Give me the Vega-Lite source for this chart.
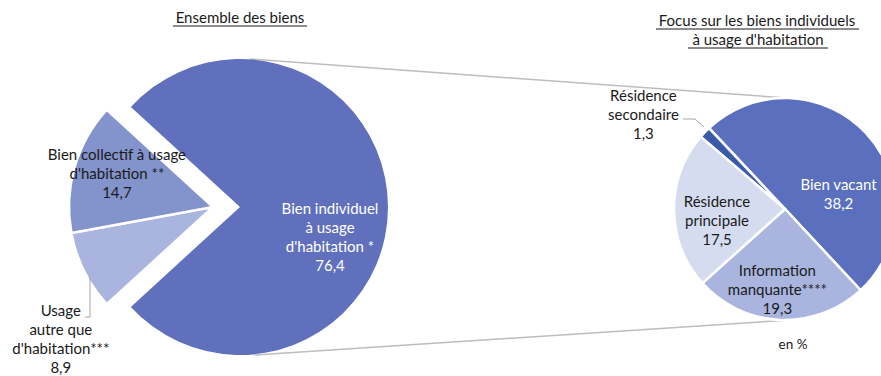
{
  "$schema": "https://vega.github.io/schema/vega-lite/v6.json",
  "width": 881,
  "height": 376,
  "autosize": "none",
  "padding": 0,
  "background": "white",
  "config": {"view": {"stroke": null}, "text": {"font": "Lato", "fontSize": 15, "lineHeight": 19}},
  "datasets": {
    "gauche": [
      {"categorie": "Bien individuel à usage d'habitation *", "etiquette": "Bien individuel\nà usage\nd'habitation *", "part": 76.4, "rang": 1},
      {"categorie": "Usage autre que d'habitation***", "etiquette": "Usage\nautre que\nd'habitation***", "part": 8.9, "rang": 2},
      {"categorie": "Bien collectif à usage d'habitation **", "etiquette": "Bien collectif à usage\nd'habitation **", "part": 14.7, "rang": 3}
    ],
    "droite": [
      {"categorie": "Bien vacant", "etiquette": "Bien vacant", "part": 38.2, "rang": 1},
      {"categorie": "Information manquante****", "etiquette": "Information\nmanquante****", "part": 19.3, "rang": 2},
      {"categorie": "Résidence principale", "etiquette": "Résidence\nprincipale", "part": 17.5, "rang": 3},
      {"categorie": "Résidence secondaire", "etiquette": "Résidence\nsecondaire", "part": 1.3, "rang": 4}
    ],
    "vide": [{}]
  },
  "resolve": {"scale": {"theta": "independent"}},
  "layer": [
    {
      "data": {"name": "vide"},
      "mark": {"type": "rule", "color": "#bdbdbd", "strokeWidth": 1.5},
      "encoding": {
        "x": {"datum": 250, "type": "quantitative", "scale": {"domain": [0, 881], "nice": false, "zero": false}, "axis": null},
        "x2": {"datum": 787},
        "y": {"datum": 59, "type": "quantitative", "scale": {"domain": [0, 376], "reverse": true, "nice": false, "zero": false}, "axis": null},
        "y2": {"datum": 98}
      }
    },
    {
      "data": {"name": "vide"},
      "mark": {"type": "rule", "color": "#bdbdbd", "strokeWidth": 1.5},
      "encoding": {
        "x": {"datum": 255, "type": "quantitative", "scale": {"domain": [0, 881], "nice": false, "zero": false}, "axis": null},
        "x2": {"datum": 790},
        "y": {"datum": 355, "type": "quantitative", "scale": {"domain": [0, 376], "reverse": true, "nice": false, "zero": false}, "axis": null},
        "y2": {"datum": 320}
      }
    },
    {
      "data": {"name": "gauche"},
      "transform": [
        {"stack": "part", "groupby": [], "sort": [{"field": "rang", "order": "ascending"}], "as": ["debut", "fin"]},
        {"filter": "datum.rang != 1"}
      ],
      "mark": {"type": "arc", "radius": 144, "stroke": "white", "strokeWidth": 2.5},
      "encoding": {
        "x": {"datum": 213, "type": "quantitative", "scale": {"domain": [0, 881], "nice": false, "zero": false}, "axis": null},
        "y": {"datum": 207, "type": "quantitative", "scale": {"domain": [0, 376], "reverse": true, "nice": false, "zero": false}, "axis": null},
        "theta": {"field": "debut", "type": "quantitative", "scale": {"domain": [0, 100], "range": [5.45415, 11.73734]}},
        "theta2": {"field": "fin"},
        "color": {"field": "categorie", "type": "nominal", "legend": null,
          "scale": {"domain": ["Bien individuel à usage d'habitation *", "Usage autre que d'habitation***", "Bien collectif à usage d'habitation **", "Bien vacant", "Information manquante****", "Résidence principale", "Résidence secondaire"],
                    "range": ["#6170bc", "#a9b5df", "#8393cc", "#5a6fbd", "#a9b5df", "#d6dcef", "#3a5ba8"]}}
      }
    },
    {
      "data": {"name": "gauche"},
      "transform": [
        {"stack": "part", "groupby": [], "sort": [{"field": "rang", "order": "ascending"}], "as": ["debut", "fin"]},
        {"filter": "datum.rang == 1"}
      ],
      "mark": {"type": "arc", "radius": 148},
      "encoding": {
        "x": {"datum": 240, "type": "quantitative", "scale": {"domain": [0, 881], "nice": false, "zero": false}, "axis": null},
        "y": {"datum": 207, "type": "quantitative", "scale": {"domain": [0, 376], "reverse": true, "nice": false, "zero": false}, "axis": null},
        "theta": {"field": "debut", "type": "quantitative", "scale": {"domain": [0, 100], "range": [5.45415, 11.73734]}},
        "theta2": {"field": "fin"},
        "color": {"field": "categorie", "type": "nominal", "legend": null}
      }
    },
    {
      "data": {"name": "droite"},
      "transform": [
        {"stack": "part", "groupby": [], "sort": [{"field": "rang", "order": "ascending"}], "as": ["debut", "fin"]}
      ],
      "mark": {"type": "arc", "radius": 111, "stroke": "white", "strokeWidth": 2.5},
      "encoding": {
        "x": {"datum": 785, "type": "quantitative", "scale": {"domain": [0, 881], "nice": false, "zero": false}, "axis": null},
        "y": {"datum": 209, "type": "quantitative", "scale": {"domain": [0, 376], "reverse": true, "nice": false, "zero": false}, "axis": null},
        "theta": {"field": "debut", "type": "quantitative", "scale": {"domain": [0, 76.3], "range": [5.5292, 11.81239]}},
        "theta2": {"field": "fin"},
        "color": {"field": "categorie", "type": "nominal", "legend": null}
      }
    },
    {
      "data": {"name": "gauche"},
      "transform": [
        {"stack": "part", "groupby": [], "sort": [{"field": "rang", "order": "ascending"}], "as": ["debut", "fin"]},
        {"calculate": "(datum.debut + datum.fin) / 2", "as": "milieu"},
        {"calculate": "datum.etiquette + '\\n' + replace(format(datum.part, '.1f'), '.', ',')", "as": "texte"},
        {"filter": "datum.rang == 1"}
      ],
      "mark": {"type": "text", "radius": 90, "dy": 1.5, "fill": "white", "lineBreak": "\n", "baseline": "middle", "align": "center"},
      "encoding": {
        "x": {"datum": 240, "type": "quantitative", "scale": {"domain": [0, 881], "nice": false, "zero": false}, "axis": null},
        "y": {"datum": 207, "type": "quantitative", "scale": {"domain": [0, 376], "reverse": true, "nice": false, "zero": false}, "axis": null},
        "theta": {"field": "milieu", "type": "quantitative", "scale": {"domain": [0, 100], "range": [5.45415, 11.73734]}},
        "text": {"field": "texte"}
      }
    },
    {
      "data": {"name": "gauche"},
      "transform": [
        {"stack": "part", "groupby": [], "sort": [{"field": "rang", "order": "ascending"}], "as": ["debut", "fin"]},
        {"calculate": "(datum.debut + datum.fin) / 2", "as": "milieu"},
        {"calculate": "datum.etiquette + '\\n' + replace(format(datum.part, '.1f'), '.', ',')", "as": "texte"},
        {"filter": "datum.rang == 3"}
      ],
      "mark": {"type": "text", "radius": 100, "dy": -24, "fill": "#1a1a1a", "lineBreak": "\n", "baseline": "middle", "align": "center"},
      "encoding": {
        "x": {"datum": 213, "type": "quantitative", "scale": {"domain": [0, 881], "nice": false, "zero": false}, "axis": null},
        "y": {"datum": 207, "type": "quantitative", "scale": {"domain": [0, 376], "reverse": true, "nice": false, "zero": false}, "axis": null},
        "theta": {"field": "milieu", "type": "quantitative", "scale": {"domain": [0, 100], "range": [5.45415, 11.73734]}},
        "text": {"field": "texte"}
      }
    },
    {
      "data": {"name": "gauche"},
      "transform": [
        {"stack": "part", "groupby": [], "sort": [{"field": "rang", "order": "ascending"}], "as": ["debut", "fin"]},
        {"calculate": "(datum.debut + datum.fin) / 2", "as": "milieu"},
        {"calculate": "datum.etiquette + '\\n' + replace(format(datum.part, '.1f'), '.', ',')", "as": "texte"},
        {"filter": "datum.rang == 2"}
      ],
      "mark": {"type": "text", "radius": 170, "dy": 28.5, "fill": "#1a1a1a", "lineBreak": "\n", "baseline": "middle", "align": "center"},
      "encoding": {
        "x": {"datum": 213, "type": "quantitative", "scale": {"domain": [0, 881], "nice": false, "zero": false}, "axis": null},
        "y": {"datum": 207, "type": "quantitative", "scale": {"domain": [0, 376], "reverse": true, "nice": false, "zero": false}, "axis": null},
        "theta": {"field": "milieu", "type": "quantitative", "scale": {"domain": [0, 100], "range": [5.45415, 11.73734]}},
        "text": {"field": "texte"}
      }
    },
    {
      "data": {"name": "droite"},
      "transform": [
        {"stack": "part", "groupby": [], "sort": [{"field": "rang", "order": "ascending"}], "as": ["debut", "fin"]},
        {"calculate": "(datum.debut + datum.fin) / 2", "as": "milieu"},
        {"calculate": "datum.etiquette + '\\n' + replace(format(datum.part, '.1f'), '.', ',')", "as": "texte"},
        {"filter": "datum.rang == 1"}
      ],
      "mark": {"type": "text", "radius": 50, "dx": 17, "dy": 10, "fill": "white", "lineBreak": "\n", "baseline": "middle", "align": "center"},
      "encoding": {
        "x": {"datum": 785, "type": "quantitative", "scale": {"domain": [0, 881], "nice": false, "zero": false}, "axis": null},
        "y": {"datum": 209, "type": "quantitative", "scale": {"domain": [0, 376], "reverse": true, "nice": false, "zero": false}, "axis": null},
        "theta": {"field": "milieu", "type": "quantitative", "scale": {"domain": [0, 76.3], "range": [5.5292, 11.81239]}},
        "text": {"field": "texte"}
      }
    },
    {
      "data": {"name": "droite"},
      "transform": [
        {"stack": "part", "groupby": [], "sort": [{"field": "rang", "order": "ascending"}], "as": ["debut", "fin"]},
        {"calculate": "(datum.debut + datum.fin) / 2", "as": "milieu"},
        {"calculate": "datum.etiquette + '\\n' + replace(format(datum.part, '.1f'), '.', ',')", "as": "texte"},
        {"filter": "datum.rang == 2"}
      ],
      "mark": {"type": "text", "radius": 81, "dx": -4, "dy": -19, "fill": "#1a1a1a", "lineBreak": "\n", "baseline": "middle", "align": "center"},
      "encoding": {
        "x": {"datum": 785, "type": "quantitative", "scale": {"domain": [0, 881], "nice": false, "zero": false}, "axis": null},
        "y": {"datum": 209, "type": "quantitative", "scale": {"domain": [0, 376], "reverse": true, "nice": false, "zero": false}, "axis": null},
        "theta": {"field": "milieu", "type": "quantitative", "scale": {"domain": [0, 76.3], "range": [5.5292, 11.81239]}},
        "text": {"field": "texte"}
      }
    },
    {
      "data": {"name": "droite"},
      "transform": [
        {"stack": "part", "groupby": [], "sort": [{"field": "rang", "order": "ascending"}], "as": ["debut", "fin"]},
        {"calculate": "(datum.debut + datum.fin) / 2", "as": "milieu"},
        {"calculate": "datum.etiquette + '\\n' + replace(format(datum.part, '.1f'), '.', ',')", "as": "texte"},
        {"filter": "datum.rang == 3"}
      ],
      "mark": {"type": "text", "radius": 68, "dy": -8, "fill": "#1a1a1a", "lineBreak": "\n", "baseline": "middle", "align": "center"},
      "encoding": {
        "x": {"datum": 785, "type": "quantitative", "scale": {"domain": [0, 881], "nice": false, "zero": false}, "axis": null},
        "y": {"datum": 209, "type": "quantitative", "scale": {"domain": [0, 376], "reverse": true, "nice": false, "zero": false}, "axis": null},
        "theta": {"field": "milieu", "type": "quantitative", "scale": {"domain": [0, 76.3], "range": [5.5292, 11.81239]}},
        "text": {"field": "texte"}
      }
    },
    {
      "data": {"name": "droite"},
      "transform": [
        {"stack": "part", "groupby": [], "sort": [{"field": "rang", "order": "ascending"}], "as": ["debut", "fin"]},
        {"calculate": "(datum.debut + datum.fin) / 2", "as": "milieu"},
        {"calculate": "datum.etiquette + '\\n' + replace(format(datum.part, '.1f'), '.', ',')", "as": "texte"},
        {"filter": "datum.rang == 4"}
      ],
      "mark": {"type": "text", "radius": 160, "dx": -26, "dy": -2, "fill": "#1a1a1a", "lineBreak": "\n", "baseline": "middle", "align": "center"},
      "encoding": {
        "x": {"datum": 785, "type": "quantitative", "scale": {"domain": [0, 881], "nice": false, "zero": false}, "axis": null},
        "y": {"datum": 209, "type": "quantitative", "scale": {"domain": [0, 376], "reverse": true, "nice": false, "zero": false}, "axis": null},
        "theta": {"field": "milieu", "type": "quantitative", "scale": {"domain": [0, 76.3], "range": [5.5292, 11.81239]}},
        "text": {"field": "texte"}
      }
    },
    {
      "data": {"name": "vide"},
      "mark": {"type": "rule", "color": "#a6a6a6", "strokeWidth": 1},
      "encoding": {
        "x": {"datum": 90, "type": "quantitative", "scale": {"domain": [0, 881], "nice": false, "zero": false}, "axis": null},
        "y": {"datum": 277, "type": "quantitative", "scale": {"domain": [0, 376], "reverse": true, "nice": false, "zero": false}, "axis": null},
        "y2": {"datum": 317}
      }
    },
    {
      "data": {"name": "vide"},
      "mark": {"type": "rule", "color": "#a6a6a6", "strokeWidth": 1},
      "encoding": {
        "x": {"datum": 85, "type": "quantitative", "scale": {"domain": [0, 881], "nice": false, "zero": false}, "axis": null},
        "x2": {"datum": 90},
        "y": {"datum": 317, "type": "quantitative", "scale": {"domain": [0, 376], "reverse": true, "nice": false, "zero": false}, "axis": null}
      }
    },
    {
      "data": {"name": "vide"},
      "mark": {"type": "rule", "color": "#a6a6a6", "strokeWidth": 1},
      "encoding": {
        "x": {"datum": 683, "type": "quantitative", "scale": {"domain": [0, 881], "nice": false, "zero": false}, "axis": null},
        "x2": {"datum": 695},
        "y": {"datum": 119, "type": "quantitative", "scale": {"domain": [0, 376], "reverse": true, "nice": false, "zero": false}, "axis": null}
      }
    },
    {
      "data": {"name": "vide"},
      "mark": {"type": "rule", "color": "#a6a6a6", "strokeWidth": 1},
      "encoding": {
        "x": {"datum": 695, "type": "quantitative", "scale": {"domain": [0, 881], "nice": false, "zero": false}, "axis": null},
        "x2": {"datum": 704},
        "y": {"datum": 119, "type": "quantitative", "scale": {"domain": [0, 376], "reverse": true, "nice": false, "zero": false}, "axis": null},
        "y2": {"datum": 127}
      }
    },
    {
      "data": {"name": "vide"},
      "mark": {"type": "text", "fill": "#1a1a1a", "fontSize": 15, "baseline": "middle", "align": "center"},
      "encoding": {
        "x": {"datum": 240, "type": "quantitative", "scale": {"domain": [0, 881], "nice": false, "zero": false}, "axis": null},
        "y": {"datum": 18, "type": "quantitative", "scale": {"domain": [0, 376], "reverse": true, "nice": false, "zero": false}, "axis": null},
        "text": {"value": "Ensemble des biens"}
      }
    },
    {
      "data": {"name": "vide"},
      "mark": {"type": "text", "fill": "#1a1a1a", "fontSize": 15, "baseline": "middle", "align": "center"},
      "encoding": {
        "x": {"datum": 757, "type": "quantitative", "scale": {"domain": [0, 881], "nice": false, "zero": false}, "axis": null},
        "y": {"datum": 21, "type": "quantitative", "scale": {"domain": [0, 376], "reverse": true, "nice": false, "zero": false}, "axis": null},
        "text": {"value": "Focus sur les biens individuels"}
      }
    },
    {
      "data": {"name": "vide"},
      "mark": {"type": "text", "fill": "#1a1a1a", "fontSize": 15, "baseline": "middle", "align": "center"},
      "encoding": {
        "x": {"datum": 758, "type": "quantitative", "scale": {"domain": [0, 881], "nice": false, "zero": false}, "axis": null},
        "y": {"datum": 40, "type": "quantitative", "scale": {"domain": [0, 376], "reverse": true, "nice": false, "zero": false}, "axis": null},
        "text": {"value": "à usage d'habitation"}
      }
    },
    {
      "data": {"name": "vide"},
      "mark": {"type": "rule", "color": "#1a1a1a", "strokeWidth": 1},
      "encoding": {
        "x": {"datum": 173, "type": "quantitative", "scale": {"domain": [0, 881], "nice": false, "zero": false}, "axis": null},
        "x2": {"datum": 307},
        "y": {"datum": 26, "type": "quantitative", "scale": {"domain": [0, 376], "reverse": true, "nice": false, "zero": false}, "axis": null}
      }
    },
    {
      "data": {"name": "vide"},
      "mark": {"type": "rule", "color": "#1a1a1a", "strokeWidth": 1},
      "encoding": {
        "x": {"datum": 656, "type": "quantitative", "scale": {"domain": [0, 881], "nice": false, "zero": false}, "axis": null},
        "x2": {"datum": 859},
        "y": {"datum": 29, "type": "quantitative", "scale": {"domain": [0, 376], "reverse": true, "nice": false, "zero": false}, "axis": null}
      }
    },
    {
      "data": {"name": "vide"},
      "mark": {"type": "rule", "color": "#1a1a1a", "strokeWidth": 1},
      "encoding": {
        "x": {"datum": 688, "type": "quantitative", "scale": {"domain": [0, 881], "nice": false, "zero": false}, "axis": null},
        "x2": {"datum": 828},
        "y": {"datum": 48, "type": "quantitative", "scale": {"domain": [0, 376], "reverse": true, "nice": false, "zero": false}, "axis": null}
      }
    },
    {
      "data": {"name": "vide"},
      "mark": {"type": "text", "fill": "#1a1a1a", "fontSize": 13.5, "baseline": "middle", "align": "center"},
      "encoding": {
        "x": {"datum": 793, "type": "quantitative", "scale": {"domain": [0, 881], "nice": false, "zero": false}, "axis": null},
        "y": {"datum": 345, "type": "quantitative", "scale": {"domain": [0, 376], "reverse": true, "nice": false, "zero": false}, "axis": null},
        "text": {"value": "en %"}
      }
    }
  ]
}
